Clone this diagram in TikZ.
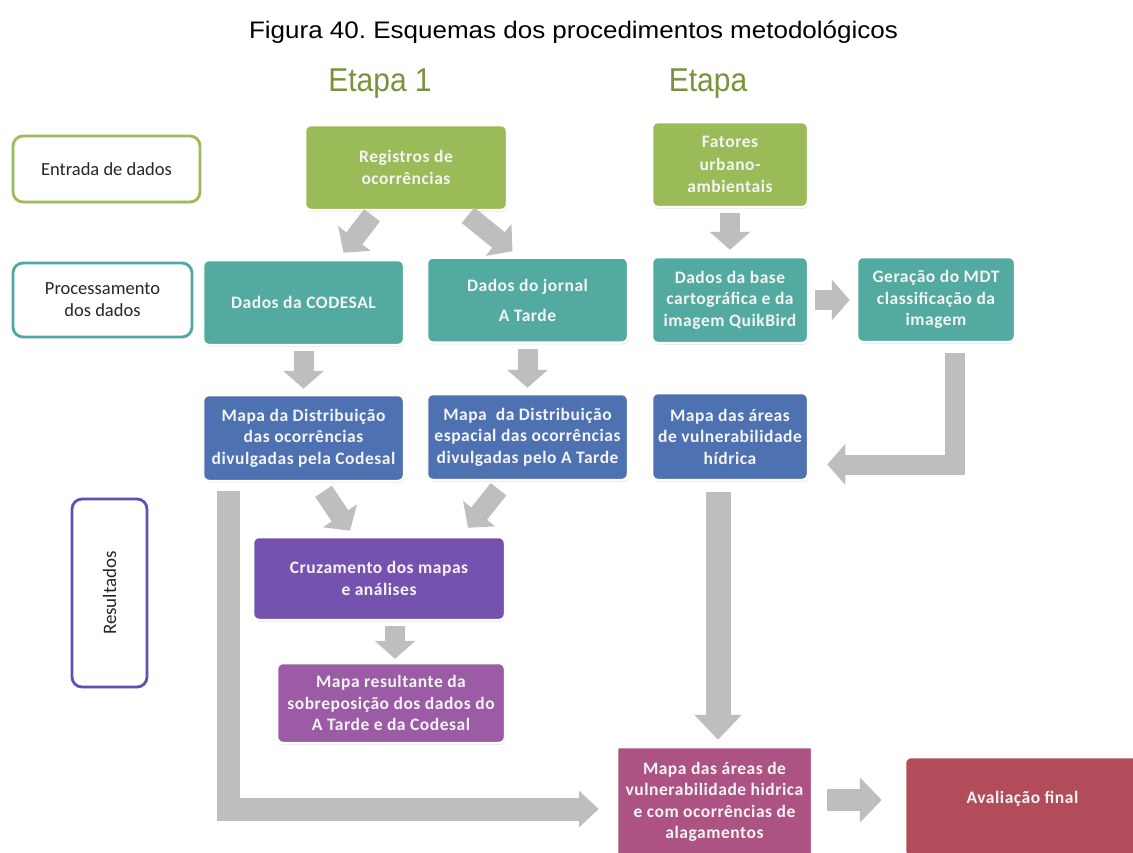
\documentclass[tikz,border=0pt]{standalone}
\usepackage{fontspec}
\setmainfont{Carlito}
\newfontfamily\boxfont{Carlito}[LetterSpace=3]
\newfontfamily\arialfont{Liberation Sans}
\usetikzlibrary{arrows.meta,shadows,calc}
\frenchspacing

\definecolor{arrgray}{HTML}{BEBEBE}
\definecolor{cgreen}{HTML}{9BBB59}
\definecolor{cteal}{HTML}{52AAA0}
\definecolor{cblue}{HTML}{4D71B1}
\definecolor{cviolet}{HTML}{7652B0}
\definecolor{cplum}{HTML}{9B5BA5}
\definecolor{cmagenta}{HTML}{AD5383}
\definecolor{cred}{HTML}{B24C5B}
\definecolor{etapagreen}{HTML}{77933C}
\definecolor{labteal}{HTML}{4FA8A2}
\definecolor{labviolet}{HTML}{5B52B5}
\definecolor{boxtext}{HTML}{F4F4F4}

\tikzset{
  box/.style={rounded corners=6pt, draw=white, line width=2.5pt,
    text=boxtext, font=\boxfont\bfseries\fontsize{17.5}{21.5}\selectfont,
    align=center, inner sep=2pt,
    drop shadow={shadow xshift=0.8pt, shadow yshift=-1.8pt, opacity=0.22}},
  lab/.style={rounded corners=10pt, fill=white, line width=2.8pt,
    text=black!85, font=\fontsize{18.5}{22}\selectfont, align=center,
    drop shadow={shadow xshift=0.8pt, shadow yshift=-1.5pt, opacity=0.15}},
  flow/.style={draw=arrgray, line width=20pt, line join=miter,
    -{Triangle[length=18pt,width=40pt]}},
  etapa/.style={font=\arialfont\fontsize{30}{34}\selectfont, text=etapagreen, anchor=base},
}

\begin{document}
\begin{tikzpicture}[x=1pt,y=-1pt]
\useasboundingbox (0,0) rectangle (1133,852);
\clip (0,0) rectangle (1133,852);

% headings
\node[font=\arialfont\fontsize{26}{28}\selectfont, anchor=base] (title) at (573.5,38)
  {\scalebox{1}[0.92]{Figura 40. Esquemas dos procedimentos metodológicos}};
\node[etapa] (et1) at (380,91) {\scalebox{1}[1.1]{Etapa 1}};
\node[etapa] (et2) at (708,91) {\scalebox{1}[1.1]{Etapa}};

% row labels
\node[lab, draw=cgreen, minimum width=187, minimum height=66] (ent) at (106.5,169) {Entrada de dados};
\node[lab, draw=labteal, minimum width=179, minimum height=74] (pro) at (102.5,300) {Processamento\\dos dados};
\node[lab, draw=labviolet, minimum width=75, minimum height=188] (res) at (109.5,593) {};
\node[rotate=90, font=\fontsize{19}{22}\selectfont, text=black!85] (restxt) at (res) {Resultados};

% data input
\node[box, fill=cgreen, minimum width=202, minimum height=85] (reg) at (406,167.5) {Registros de\\ocorrências};
\node[box, fill=cgreen, minimum width=156, minimum height=85,
  font=\boxfont\bfseries\fontsize{17.5}{22.5}\selectfont] (fat) at (730,164.5) {Fatores\\urbano-\\ambientais};

% processing
\node[box, fill=cteal, minimum width=201, minimum height=85] (cod) at (303.5,302.5) {Dados da CODESAL};
\node[box, fill=cteal, minimum width=201, minimum height=85,
  font=\boxfont\bfseries\fontsize{17.5}{30}\selectfont] (jor) at (527.5,300) {Dados do jornal\\A Tarde};
\node[box, fill=cteal, minimum width=156, minimum height=86] (bas) at (730,300) {Dados da base\\cartográfica e da\\imagem QuikBird};
\node[box, fill=cteal, minimum width=158, minimum height=85] (ger) at (936,299.5) {Geração do MDT\\classificação da\\imagem};

% maps
\node[box, fill=cblue, minimum width=201, minimum height=86] (mcod) at (303.5,438) {Mapa da Distribuição\\das ocorrências\\divulgadas pela Codesal};
\node[box, fill=cblue, minimum width=201, minimum height=86] (mtar) at (527.5,437) {Mapa\ \ da Distribuição\\espacial das ocorrências\\divulgadas pelo A Tarde};
\node[box, fill=cblue, minimum width=156, minimum height=87] (mvul) at (730,436.5) {Mapa das áreas\\de vulnerabilidade\\hídrica};

% results
\node[box, fill=cviolet, minimum width=252, minimum height=83] (cruz) at (379,578.5) {Cruzamento dos mapas\\e análises};
\node[box, fill=cplum, minimum width=228, minimum height=80] (mres) at (391,703) {Mapa resultante da\\sobreposição dos dados do\\A Tarde e da Codesal};
\node[box, rounded corners=1pt, fill=cmagenta, minimum width=195, minimum height=110] (mfin) at (714.5,802) {Mapa das áreas de\\vulnerabilidade hidrica\\e com ocorrências de\\alagamentos};
\node[box, fill=cred, minimum width=235, minimum height=100, text depth=20pt] (aval) at (1022.5,807) {Avaliação final};

% connectors
\draw[flow] ($(reg.south)+(-34,4)$) -- ($(cod.north)+(40,-6)$);
\draw[flow] ($(reg.south)+(62,4)$) -- ($(jor.north)+(-15,-5)$);
\draw[flow, shorten <=5pt, shorten >=6pt] (fat) -- (bas);
\draw[flow, shorten <=6pt, shorten >=6pt] (bas.east) -- (bas.east -| ger.west);
\draw[flow, shorten <=5pt, shorten >=5pt] (cod) -- (mcod);
\draw[flow, shorten <=5pt, shorten >=5pt] (jor) -- (mtar);
\draw[flow] ($(ger.south)+(19,10)$) |- ($(mvul.east)+(18,28)$);
\draw[flow] ($(mcod.south)+(20,9)$) -- ($(cruz.north)+(-29,-5)$);
\draw[flow] ($(mtar.south)+(-29,8)$) -- ($(cruz.north)+(89,-8)$);
\draw[flow, shorten <=5pt, shorten >=3pt] ($(cruz.south)+(16,0)$) -- ($(cruz.south |- mres.north)+(16,0)$);
\draw[flow, line width=23pt, -{Triangle[length=20pt,width=36pt]}]
  ($(mcod.south)+(-75,9)$) |- ($(mfin.west)+(-17,7)$);
\draw[flow, line width=25pt, -{Triangle[length=25pt,width=46pt]}, shorten >=6pt]
  ($(mvul.south)+(-12,11)$) -- ($(mvul.south |- mfin.north)+(-12,0)$);
\draw[flow, line width=22pt, -{Triangle[length=22pt,width=44pt]}, shorten <=14pt, shorten >=22pt]
  ($(mfin.east)+(0,-2)$) -- ($(mfin.east -| aval.west)+(0,-2)$);
\end{tikzpicture}
\end{document}
